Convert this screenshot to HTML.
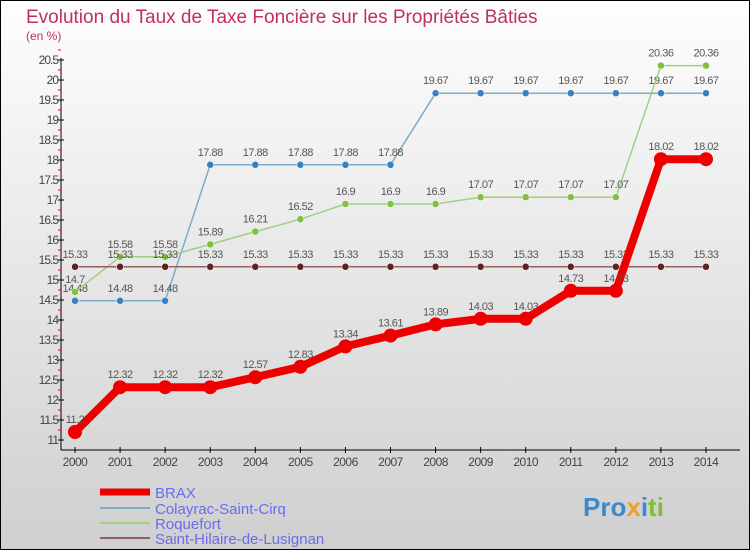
<!DOCTYPE html>
<html><head><meta charset="utf-8"><style>
body{margin:0}
svg{display:block;font-family:"Liberation Sans",sans-serif}
</style></head><body>
<svg width="750" height="550" id="c">
<defs><linearGradient id="bg" x1="0" y1="0" x2="0" y2="1"><stop offset="0" stop-color="#fefefe"/><stop offset="1" stop-color="#cfcfcf"/></linearGradient></defs>
<rect x="0.5" y="0.5" width="749" height="549" fill="url(#bg)" stroke="#000"/>
<text x="26" y="23" font-size="19" fill="#c0305a">Evolution du Taux de Taxe Foncière sur les Propriétés Bâties</text>
<text x="26" y="40" font-size="12" fill="#c0305a">(en %)</text>
<g id="axes"></g><g id="series"></g>
<g>
<line x1="100" y1="492" x2="150" y2="492" stroke="#e00" stroke-width="7"/>
<text x="155" y="498" font-size="15" fill="#6b6bf0">BRAX</text>
<line x1="100" y1="508" x2="150" y2="508" stroke="#7aaccc" stroke-width="2"/>
<text x="155" y="514" font-size="15" fill="#6b6bf0">Colayrac-Saint-Cirq</text>
<line x1="100" y1="523" x2="150" y2="523" stroke="#a0d080" stroke-width="2"/>
<text x="155" y="529" font-size="15" fill="#6b6bf0">Roquefort</text>
<line x1="100" y1="538" x2="150" y2="538" stroke="#906060" stroke-width="2"/>
<text x="155" y="544" font-size="15" fill="#6b6bf0">Saint-Hilaire-de-Lusignan</text>
</g>
<text x="583" y="516" font-size="26" font-weight="bold"><tspan fill="#3a8ad0">Pro</tspan><tspan fill="#f0a020">x</tspan><tspan fill="#3a8ad0">i</tspan><tspan fill="#80c030">ti</tspan></text>
</svg>
<script>
const years=[2000,2001,2002,2003,2004,2005,2006,2007,2008,2009,2010,2011,2012,2013,2014];
const yTicks=[11,11.5,12,12.5,13,13.5,14,14.5,15,15.5,16,16.5,17,17.5,18,18.5,19,19.5,20,20.5];
const brax=[11.2,12.32,12.32,12.32,12.57,12.83,13.34,13.61,13.89,14.03,14.03,14.73,14.73,18.02,18.02];
const colayrac=[14.48,14.48,14.48,17.88,17.88,17.88,17.88,17.88,19.67,19.67,19.67,19.67,19.67,19.67,19.67];
const roquefort=[14.7,15.58,15.58,15.89,16.21,16.52,16.9,16.9,16.9,17.07,17.07,17.07,17.07,20.36,20.36];
const hilaire=[15.33,15.33,15.33,15.33,15.33,15.33,15.33,15.33,15.33,15.33,15.33,15.33,15.33,15.33,15.33];
const NS="http://www.w3.org/2000/svg";
const X=i=>75+i*(631/14), Y=v=>440-(v-11)*40;
function mk(t,a,p){const e=document.createElementNS(NS,t);for(const k in a)e.setAttribute(k,a[k]);p.appendChild(e);return e;}
const ax=document.getElementById('axes');
let yl=mk('line',{x1:61,y1:58,x2:61,y2:450,stroke:'#000','stroke-width':1},ax);


let xl=mk('line',{x1:61,y1:450,x2:740,y2:450,stroke:'#000','stroke-width':1},ax);


yTicks.forEach(v=>{
 mk('line',{x1:58,y1:Y(v),x2:64,y2:Y(v),stroke:'#000'},ax);
 mk('line',{x1:58,y1:Y(v+0.25),x2:61,y2:Y(v+0.25),stroke:'#e00'},ax);
 const t=mk('text',{x:58,y:Y(v)+4,'font-size':12,fill:'#444','text-anchor':'end','letter-spacing':'-1'},ax);
 
 
 t.textContent=v;
});
years.forEach((y,i)=>{
 mk('line',{x1:X(i),y1:447,x2:X(i),y2:453,stroke:'#000'},ax);
 const t=mk('text',{x:X(i),y:466,'font-size':12,fill:'#444','text-anchor':'middle','letter-spacing':'-0.5'},ax);
 
 
 t.textContent=y;
});
const sg=document.getElementById('series');
function series(data,name,col,dot,w,r){
 const g=mk('g',{},sg);
 
 
 const pl=mk('polyline',{points:data.map((v,i)=>X(i)+','+Y(v)).join(' '),fill:'none',stroke:col,'stroke-width':w,'stroke-linejoin':'round'},g);
 
 
 data.forEach((v,i)=>{
  const c=mk('circle',{cx:X(i),cy:Y(v),r:r,fill:dot,stroke:name==='brax'?'none':'#fff','stroke-width':0.5},g);
  
  
  const t=mk('text',{x:X(i),y:Y(v)-9,'font-size':11,fill:'#555','text-anchor':'middle','letter-spacing':'-0.5'},g);
  
  
  t.textContent=v;
 });
}
series(colayrac,'colayrac','#7aaccc','#3a80c0',1.5,3.5);
series(roquefort,'roquefort','#a0d080','#80c040',1.5,3.5);
series(hilaire,'saint-hilaire','#906060','#602020',1.5,3.5);
series(brax,'brax','#ee0000','#ee0000',8,7);
</script>
</body></html>
